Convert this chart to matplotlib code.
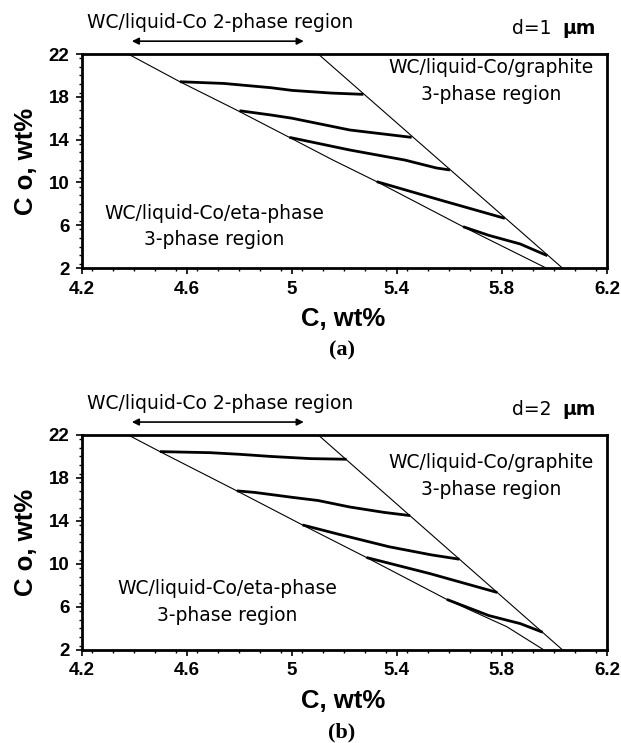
import matplotlib
matplotlib.use('Agg')
import matplotlib.pyplot as plt
from matplotlib.ticker import MultipleLocator

# carbon (x) and cobalt (y) limits, wt%
c_ticks = [4.2, 4.6, 5.0, 5.4, 5.8, 6.2]
c_tick_labels = ['4.2', '4.6', '5', '5.4', '5.8', '6.2']
co_ticks = [2, 6, 10, 14, 18, 22]

# d = 1 um : eta-phase boundary, graphite boundary and tie-lines
a_eta_c = [4.376, 4.573, 4.79, 4.99, 5.156, 5.323, 5.652, 5.968]
a_eta_co = [22, 19.41, 16.75, 14.21, 12.09, 10.07, 5.86, 2]
a_gra_c = [5.10, 6.03]
a_gra_co = [22, 2]
a_ties_c = [
    [4.573, 4.74, 4.92, 5.0, 5.15, 5.272],
    [4.80, 4.92, 5.0, 5.22, 5.456],
    [4.99, 5.22, 5.43, 5.55, 5.602],
    [5.323, 5.564, 5.811],
    [5.652, 5.75, 5.869, 5.973],
]
a_ties_co = [
    [19.41, 19.25, 18.85, 18.6, 18.35, 18.23],
    [16.7, 16.3, 16.0, 14.9, 14.21],
    [14.21, 13.03, 12.09, 11.35, 11.16],
    [10.07, 8.36, 6.64],
    [5.86, 5.05, 4.25, 3.15],
]

# d = 2 um
b_eta_c = [4.376, 4.497, 4.79, 5.04, 5.284, 5.59, 5.818, 5.96]
b_eta_co = [22, 20.45, 16.8, 13.63, 10.6, 6.7, 4.17, 2]
b_gra_c = [5.10, 6.031]
b_gra_co = [22, 2]
b_ties_c = [
    [4.497, 4.69, 4.80, 4.92, 5.07, 5.208],
    [4.79, 4.86, 5.0, 5.1, 5.22, 5.35, 5.45],
    [5.04, 5.18, 5.37, 5.53, 5.638],
    [5.284, 5.526, 5.782],
    [5.59, 5.75, 5.87, 5.955],
]
b_ties_co = [
    [20.45, 20.35, 20.2, 20.0, 19.8, 19.74],
    [16.8, 16.65, 16.2, 15.9, 15.3, 14.8, 14.5],
    [13.63, 12.75, 11.6, 10.85, 10.44],
    [10.6, 9.1, 7.35],
    [6.7, 5.2, 4.45, 3.65],
]

# two-phase arrow span along the top
arrow_c = [4.39, 5.045]

bold_font = ['Liberation Sans', 'DejaVu Sans']
plain = ['DejaVu Sans']
fs = 13.5


def draw_panel(ax, eta_c, eta_co, gra_c, gra_co, ties_c, ties_co,
               size_text, gra_co_text, eta_co_text, eta_c_text, tag):
    ax.plot(eta_c, eta_co, color='black', lw=0.8)
    ax.plot(gra_c, gra_co, color='black', lw=0.8)
    for tc, tco in zip(ties_c, ties_co):
        ax.plot(tc, tco, color='black', lw=2.0, solid_capstyle='butt')

    ax.set_xlim(4.2, 6.2)
    ax.set_ylim(2, 22)
    ax.set_xticks(c_ticks)
    ax.set_xticklabels(c_tick_labels)
    ax.set_yticks(co_ticks)
    ax.xaxis.set_minor_locator(MultipleLocator(0.08))
    ax.yaxis.set_minor_locator(MultipleLocator(0.8))
    ax.tick_params(which='major', direction='out', length=4, width=1.2, pad=5)
    ax.tick_params(which='minor', direction='out', length=2.5, width=1.0)
    for lab in ax.get_xticklabels() + ax.get_yticklabels():
        lab.set_family(bold_font)
        lab.set_fontweight('bold')
        lab.set_fontsize(13.5)
    for sp in ax.spines.values():
        sp.set_linewidth(2.0)

    ax.set_xlabel('C, wt%', family=bold_font, fontweight='bold', fontsize=18.5)
    ax.set_ylabel('C o, wt%', family=bold_font, fontweight='bold', fontsize=18.5)
    ax.xaxis.set_label_coords(0.497, -0.18)
    ax.yaxis.set_label_coords(-0.084, 0.5)

    # region labels
    ax.text(5.76, gra_co_text, 'WC/liquid-Co/graphite', ha='center', va='center',
            family=plain, fontsize=fs)
    ax.text(5.76, gra_co_text - 2.45, '3-phase region', ha='center', va='center',
            family=plain, fontsize=fs)
    ax.text(eta_c_text, eta_co_text, 'WC/liquid-Co/eta-phase', ha='center', va='center',
            family=plain, fontsize=fs)
    ax.text(eta_c_text, eta_co_text - 2.45, '3-phase region', ha='center', va='center',
            family=plain, fontsize=fs)

    ax.text(4.726, 24.95, 'WC/liquid-Co 2-phase region', ha='center', va='center',
            family=plain, fontsize=fs, clip_on=False)
    ax.annotate('', xy=(arrow_c[0], 23.2), xytext=(arrow_c[1], 23.2),
                arrowprops=dict(arrowstyle='<|-|>', color='black', lw=1.2,
                                mutation_scale=10, shrinkA=0, shrinkB=0),
                annotation_clip=False)
    # grain size tag: plain "d=.." followed by a bold unit
    ax.text(5.99, 24.4, size_text, ha='right', va='center',
            family=plain, fontsize=fs, clip_on=False)
    ax.text(6.158, 24.4, 'µm', ha='right', va='center',
            family=plain, fontsize=fs, fontweight='bold', clip_on=False)

    ax.text(0.495, -0.385, tag, transform=ax.transAxes, ha='center', va='center',
            family=['Liberation Serif'], fontweight='bold', fontsize=16)


fig = plt.figure(figsize=(6.21, 7.43), dpi=100)
ax_a = fig.add_axes([0.132, 0.6393, 0.8454, 0.288])
ax_b = fig.add_axes([0.132, 0.1252, 0.8454, 0.2894])

draw_panel(ax_a, a_eta_c, a_eta_co, a_gra_c, a_gra_co, a_ties_c, a_ties_co,
           'd=1', 20.7, 7.1, 4.703, '(a)')
draw_panel(ax_b, b_eta_c, b_eta_co, b_gra_c, b_gra_co, b_ties_c, b_ties_co,
           'd=2', 19.4, 7.7, 4.754, '(b)')

fig.savefig('out.png', dpi=100)
